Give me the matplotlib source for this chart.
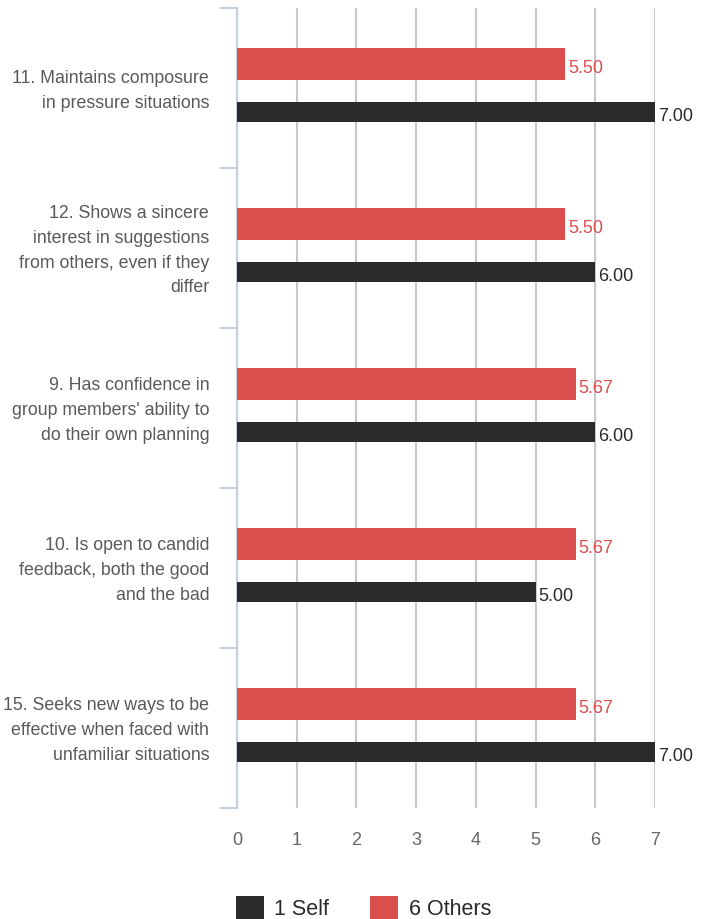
import numpy as np
import matplotlib
matplotlib.use("Agg")
import matplotlib.pyplot as plt

# data
categories = [
    "11. Maintains composure\nin pressure situations",
    "12. Shows a sincere\ninterest in suggestions\nfrom others, even if they\ndiffer",
    "9. Has confidence in\ngroup members' ability to\ndo their own planning",
    "10. Is open to candid\nfeedback, both the good\nand the bad",
    "15. Seeks new ways to be\neffective when faced with\nunfamiliar situations",
]
self_scores = [7.00, 6.00, 6.00, 5.00, 7.00]
others_scores = [5.50, 5.50, 5.67, 5.67, 5.67]
series_names = ["1 Self", "6 Others"]
x_ticks = [0, 1, 2, 3, 4, 5, 6, 7]

RED = "#db4f4f"
DARK = "#2a2a2a"
GREY_TXT = "#595959"
SPINE = "#c3d2e3"

plt.rcParams["font.family"] = ["Liberation Sans", "DejaVu Sans"]

fig = plt.figure(figsize=(7.13, 9.19), dpi=100)
ax = fig.add_axes([237 / 713, 1 - 808 / 919, (655 - 237) / 713, 800 / 919])

y = np.arange(len(categories))
b_self = ax.barh(y + 0.15, self_scores, height=0.125, color=DARK, zorder=3)
b_oth = ax.barh(y - 0.15, others_scores, height=0.2, color=RED, zorder=3)

# value labels sit a touch below the bar centre, like the original
for yi, v in zip(y, self_scores):
    ax.text(v + 0.05, yi + 0.178, f"{v:.2f}", va="center", ha="left",
            fontsize=13, color=DARK, zorder=4)
for yi, v in zip(y, others_scores):
    ax.text(v + 0.05, yi - 0.12, f"{v:.2f}", va="center", ha="left",
            fontsize=13, color=RED, zorder=4)

ax.set_xlim(0, 7)
ax.set_ylim(len(categories) - 0.5, -0.5)

ax.set_xticks(x_ticks)
ax.tick_params(axis="x", length=0, pad=17.5, labelsize=13, labelcolor="#666666")
ax.grid(axis="x", color="#c8c8c8", linewidth=1.5, zorder=0)

# category separators as major ticks, labels as minor ticks
ax.set_yticks(np.arange(-0.5, len(categories), 1.0))
ax.set_yticklabels([])
ax.tick_params(axis="y", which="major", length=12.5, width=1.5, color=SPINE)
ax.set_yticks(y - 0.02, minor=True)
ax.set_yticklabels(categories, minor=True, fontsize=12.8, color=GREY_TXT,
                   linespacing=1.6)
ax.tick_params(axis="y", which="minor", length=0, pad=20)

for s in ["top", "right", "bottom"]:
    ax.spines[s].set_visible(False)
ax.spines["left"].set_color(SPINE)
ax.spines["left"].set_linewidth(1.5)

fig.legend([b_self, b_oth], series_names, loc="center", ncol=2,
           bbox_to_anchor=(0.51, 0.012), frameon=False, fontsize=15.5,
           handlelength=1.3, handleheight=1.4, handletextpad=0.5,
           columnspacing=1.9, labelcolor=DARK)

fig.savefig("out.png", dpi=100)
